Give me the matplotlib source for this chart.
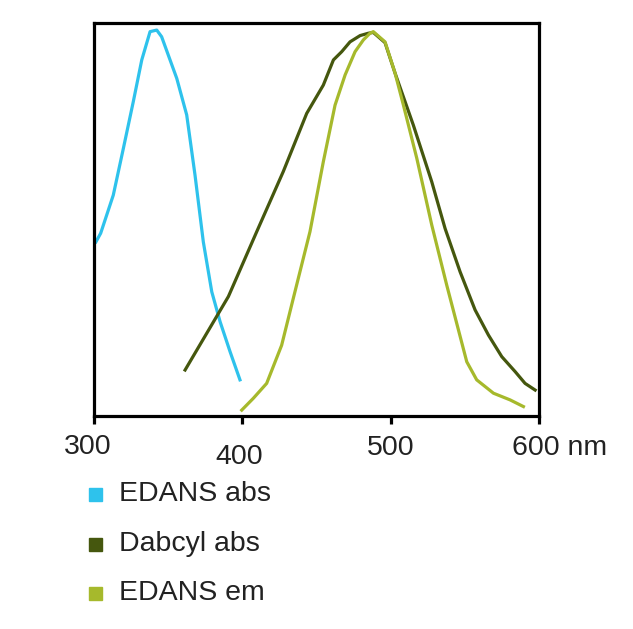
import matplotlib
matplotlib.use("Agg")
import matplotlib.pyplot as plt
from matplotlib.patches import Rectangle

plt.rcParams['font.family'] = ['Liberation Sans', 'DejaVu Sans']

# EDANS absorption
edans_abs_x = [301.3, 304.5, 313.0, 319.8, 326.5, 332.2, 337.8, 342.3, 345.6, 355.8,
               362.5, 368.1, 373.7, 379.4, 385.0, 391.7, 398.4]
edans_abs_y = [0.443, 0.465, 0.562, 0.681, 0.800, 0.906, 0.978, 0.982, 0.965, 0.859,
               0.766, 0.613, 0.443, 0.316, 0.240, 0.164, 0.092]

# Dabcyl absorption
dabcyl_x = [361.4, 390.6, 409.7, 427.6, 443.4, 454.6, 461.4, 467.0, 472.6, 479.4, 485.0,
            488.3, 496.2, 503.0, 515.3, 527.7, 536.7, 546.8, 556.9, 565.9, 574.9,
            583.9, 590.6, 597.4]
dabcyl_y = [0.117, 0.304, 0.469, 0.622, 0.770, 0.842, 0.906, 0.927, 0.952, 0.968, 0.974,
            0.976, 0.950, 0.872, 0.740, 0.596, 0.477, 0.367, 0.270, 0.206, 0.151,
            0.113, 0.083, 0.066]

# EDANS emission
edans_em_x = [399.6, 407.4, 416.4, 426.5, 434.4, 445.6, 454.6, 462.5, 469.3, 476.0,
              481.6, 486.1, 488.3, 496.2, 503.0, 508.6, 517.6, 527.7, 537.8, 551.3,
              558.0, 569.3, 580.5, 589.5]
edans_em_y = [0.015, 0.045, 0.083, 0.180, 0.300, 0.469, 0.647, 0.791, 0.868, 0.927,
              0.957, 0.974, 0.978, 0.952, 0.872, 0.791, 0.656, 0.486, 0.333, 0.138,
              0.092, 0.058, 0.041, 0.024]

series_labels = ['EDANS abs', 'Dabcyl abs', 'EDANS em']
series_colors = ['#2EC2EC', '#45570E', '#A6B92C']
tick_values = [300, 400, 500, 600]
tick_labels = ['300', '400', '500', '600 nm']

W, H = 633, 629
fig = plt.figure(figsize=(W / 100, H / 100), dpi=100)
ax = fig.add_axes([94 / W, 1 - 416 / H, (539 - 94) / W, (416 - 23) / H])

lw = 2.3
ax.plot(edans_abs_x, edans_abs_y, color=series_colors[0], lw=lw, solid_joinstyle='round')
ax.plot(dabcyl_x, dabcyl_y, color=series_colors[1], lw=lw, solid_joinstyle='round')
ax.plot(edans_em_x, edans_em_y, color=series_colors[2], lw=lw, solid_joinstyle='round')

ax.set_xlim(300, 600)
ax.set_ylim(0, 1)
for s in ax.spines.values():
    s.set_linewidth(2.3)
    s.set_color('black')
ax.set_yticks([])
ax.set_xticks(tick_values)
ax.set_xticklabels([])
ax.tick_params(axis='x', direction='out', length=6, width=2.3, color='black')

fs = 20.5
tc = '#222222'
# tick labels positioned in pixel coordinates
label_pos = [(88, 447), (239, 457), (391, 448)]
for (px, py), lab in zip(label_pos, tick_labels[:3]):
    fig.text(px / W, 1 - py / H, lab, ha='center', va='center', fontsize=fs, color=tc)
fig.text(511.5 / W, 1 - 448 / H, tick_labels[3], ha='left', va='center', fontsize=fs, color=tc)

# legend
leg_y = [494, 544, 593]
for lab, col, yy in zip(series_labels, series_colors, leg_y):
    fig.patches.append(Rectangle((89 / W, 1 - (yy + 6.5) / H), 13 / W, 13 / H,
                                 transform=fig.transFigure, color=col))
    fig.text(119 / W, 1 - yy / H, lab, ha='left', va='center', fontsize=fs, color=tc)

fig.savefig('out.png', dpi=100)
